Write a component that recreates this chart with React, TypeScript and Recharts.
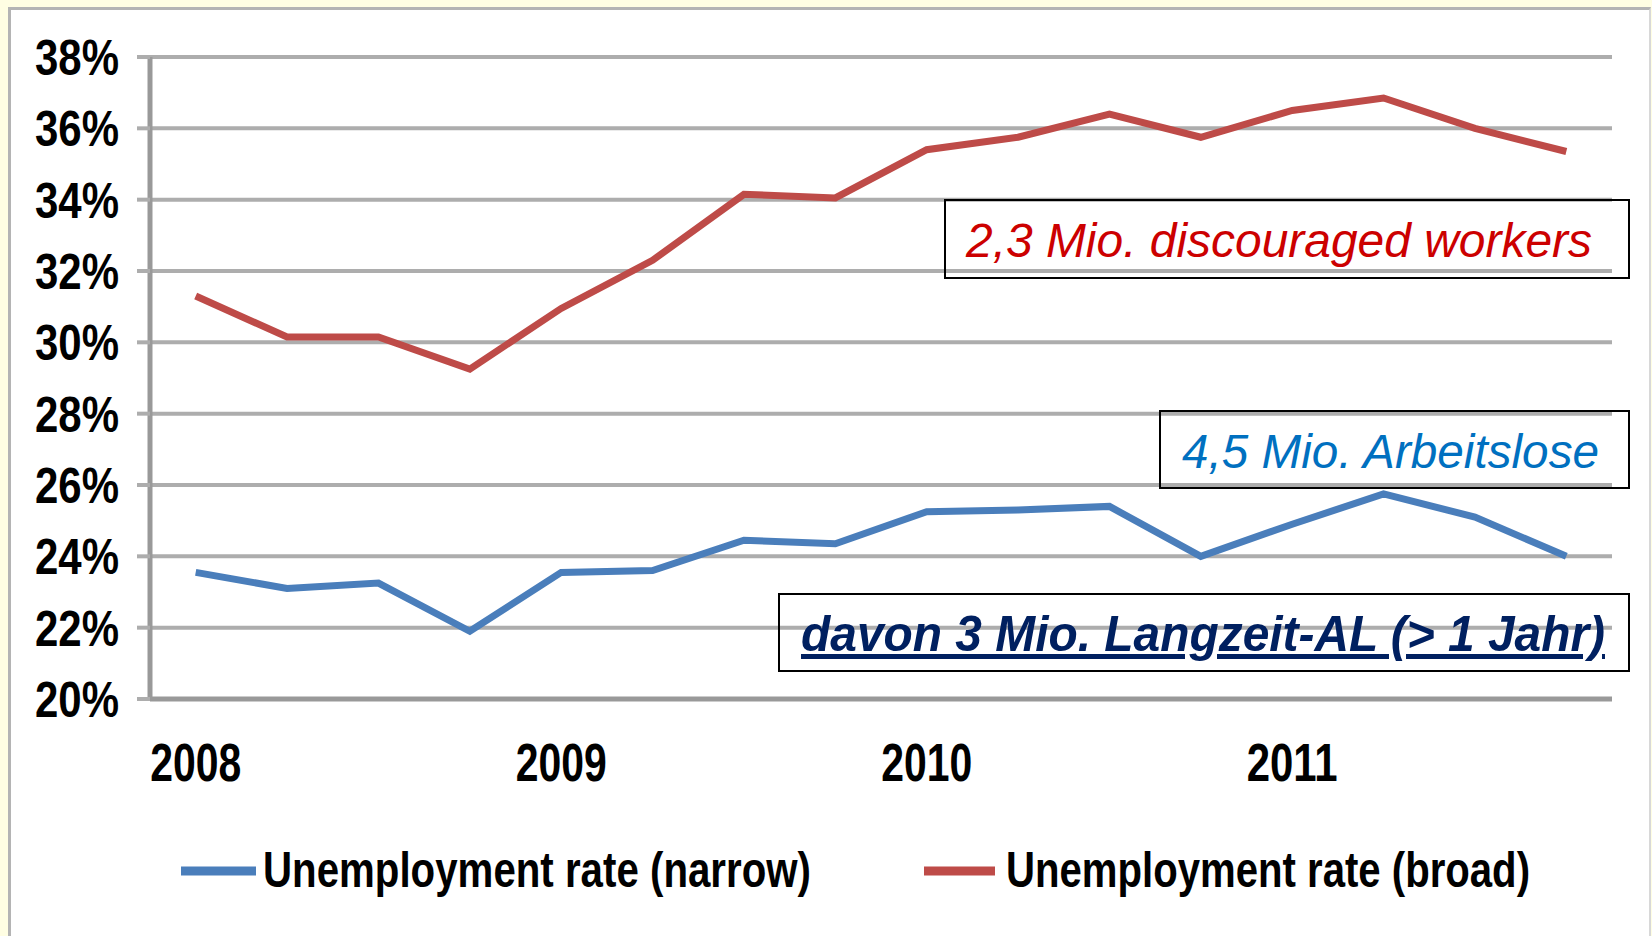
import React from 'react'
import { LineChart, Line, XAxis, YAxis, CartesianGrid } from 'recharts'

// quarterly values
const quarters = [
  '2008 Q1', '2008 Q2', '2008 Q3', '2008 Q4',
  '2009 Q1', '2009 Q2', '2009 Q3', '2009 Q4',
  '2010 Q1', '2010 Q2', '2010 Q3', '2010 Q4',
  '2011 Q1', '2011 Q2', '2011 Q3', '2011 Q4',
]
const years = ['2008', '2009', '2010', '2011']
const narrowRate = [23.55, 23.1, 23.25, 21.9, 23.55, 23.6, 24.45, 24.35, 25.25, 25.3, 25.4, 24.0, 24.9, 25.75, 25.1, 24.0]
const broadRate = [31.3, 30.15, 30.15, 29.25, 30.95, 32.3, 34.15, 34.05, 35.4, 35.75, 36.4, 35.75, 36.5, 36.85, 36.0, 35.35]
const yTicks = [20, 22, 24, 26, 28, 30, 32, 34, 36, 38]
const seriesNames = ['Unemployment rate (narrow)', 'Unemployment rate (broad)']
const notes = ['2,3 Mio. discouraged workers', '4,5 Mio. Arbeitslose', 'davon 3 Mio. Langzeit-AL (> 1 Jahr)']

const BLUE = '#4A7EBB'
const RED = '#BE4B48'
const FONT = '"Liberation Sans", Arial, sans-serif'

const data = quarters.map((q, i) => ({
  q,
  pos: i + 0.5,
  narrow: narrowRate[i],
  broad: broadRate[i],
}))

const boundaryTicks = Array.from({ length: quarters.length + 1 }, (_, i) => i)
const yearTicks = years.map((_, i) => i * 4 + 0.5)

const YTick = (props: any) => {
  const { x, y, payload } = props
  return (
    <text
      x={x}
      y={y}
      dy={18}
      textAnchor="end"
      fontFamily={FONT}
      fontSize={50}
      fontWeight={700}
      fill="#000"
      textLength={84}
      lengthAdjust="spacingAndGlyphs"
    >
      {payload.value}%
    </text>
  )
}

const YearTick = (props: any) => {
  const { x, y, payload } = props
  const label = years[Math.floor(payload.value / 4)]
  return (
    <text
      x={x}
      y={y}
      dy={68}
      textAnchor="middle"
      fontFamily={FONT}
      fontSize={54}
      fontWeight={700}
      fill="#000"
      textLength={91}
      lengthAdjust="spacingAndGlyphs"
    >
      {label}
    </text>
  )
}

export default function App() {
  return (
    <div
      style={{
        position: 'absolute',
        left: 0,
        top: 0,
        width: 1652,
        height: 936,
        overflow: 'hidden',
        background: '#FFFEE3',
      }}
    >
      {/* white panel with grey frame */}
      <div
        style={{
          position: 'absolute',
          left: 8,
          top: 7,
          width: 1638,
          height: 950,
          background: '#fff',
          borderLeft: '3px solid #B4B4B4',
          borderTop: '3px solid #B4B4B4',
          borderRight: '2px solid #D8D8D8',
        }}
      />

      <div style={{ position: 'absolute', left: 0, top: 0 }}>
        <LineChart
          width={1652}
          height={936}
          data={data}
          margin={{ top: 57, right: 40, left: 40, bottom: 123 }}
        >
          <CartesianGrid
            xAxisId="t"
            vertical={false}
            stroke="#ADADAD"
            strokeWidth={4}
          />
          <XAxis
            xAxisId="t"
            type="number"
            dataKey="pos"
            domain={[0, quarters.length]}
            ticks={boundaryTicks}
            tick={false}
            height={14}
            tickSize={14}
            axisLine={{ stroke: '#999', strokeWidth: 5 }}
            tickLine={{ stroke: '#999', strokeWidth: 2 }}
            allowDataOverflow
          />
          <XAxis
            xAxisId="y"
            type="number"
            dataKey="pos"
            domain={[0, quarters.length]}
            ticks={yearTicks}
            tick={<YearTick />}
            height={100}
            tickSize={0}
            tickMargin={0}
            axisLine={false}
            tickLine={false}
            allowDataOverflow
          />
          <YAxis
            domain={[20, 38]}
            ticks={yTicks}
            width={110}
            tick={<YTick />}
            tickSize={13}
            tickMargin={18}
            axisLine={{ stroke: '#999', strokeWidth: 5 }}
            tickLine={{ stroke: '#ADADAD', strokeWidth: 4 }}
            allowDataOverflow
          />
          <Line
            xAxisId="t"
            type="linear"
            dataKey="narrow"
            name={seriesNames[0]}
            stroke={BLUE}
            strokeWidth={7}
            dot={false}
            activeDot={false}
            isAnimationActive={false}
          />
          <Line
            xAxisId="t"
            type="linear"
            dataKey="broad"
            name={seriesNames[1]}
            stroke={RED}
            strokeWidth={7}
            dot={false}
            activeDot={false}
            isAnimationActive={false}
          />
        </LineChart>
      </div>

      {/* annotation boxes and legend */}
      <svg
        width={1652}
        height={936}
        style={{ position: 'absolute', left: 0, top: 0, pointerEvents: 'none' }}
      >
        <rect x={945} y={200} width={684} height={78} fill="none" stroke="#000" strokeWidth={2} />
        <text
          x={966}
          y={257}
          fontFamily={FONT}
          fontSize={48}
          fontStyle="italic"
          fill="#CC0000"
          textLength={626}
          lengthAdjust="spacingAndGlyphs"
        >
          {notes[0]}
        </text>

        <rect x={1160} y={411} width={469} height={77} fill="none" stroke="#000" strokeWidth={2} />
        <text
          x={1182}
          y={468}
          fontFamily={FONT}
          fontSize={48}
          fontStyle="italic"
          fill="#0070C0"
          textLength={417}
          lengthAdjust="spacingAndGlyphs"
        >
          {notes[1]}
        </text>

        <rect x={779} y={594} width={850} height={77} fill="none" stroke="#000" strokeWidth={2} />
        <text
          x={801}
          y={651}
          fontFamily={FONT}
          fontSize={50}
          fontStyle="italic"
          fontWeight={700}
          fill="#002060"
          textDecoration="underline"
          textLength={804}
          lengthAdjust="spacingAndGlyphs"
        >
          {notes[2]}
        </text>

        {/* legend */}
        <line x1={181} x2={256} y1={871} y2={871} stroke={BLUE} strokeWidth={9} />
        <text
          x={263}
          y={887}
          fontFamily={FONT}
          fontSize={50}
          fontWeight={700}
          fill="#000"
          textLength={548}
          lengthAdjust="spacingAndGlyphs"
        >
          {seriesNames[0]}
        </text>
        <line x1={924} x2={995} y1={871} y2={871} stroke={RED} strokeWidth={9} />
        <text
          x={1006}
          y={887}
          fontFamily={FONT}
          fontSize={50}
          fontWeight={700}
          fill="#000"
          textLength={524}
          lengthAdjust="spacingAndGlyphs"
        >
          {seriesNames[1]}
        </text>
      </svg>
    </div>
  )
}
